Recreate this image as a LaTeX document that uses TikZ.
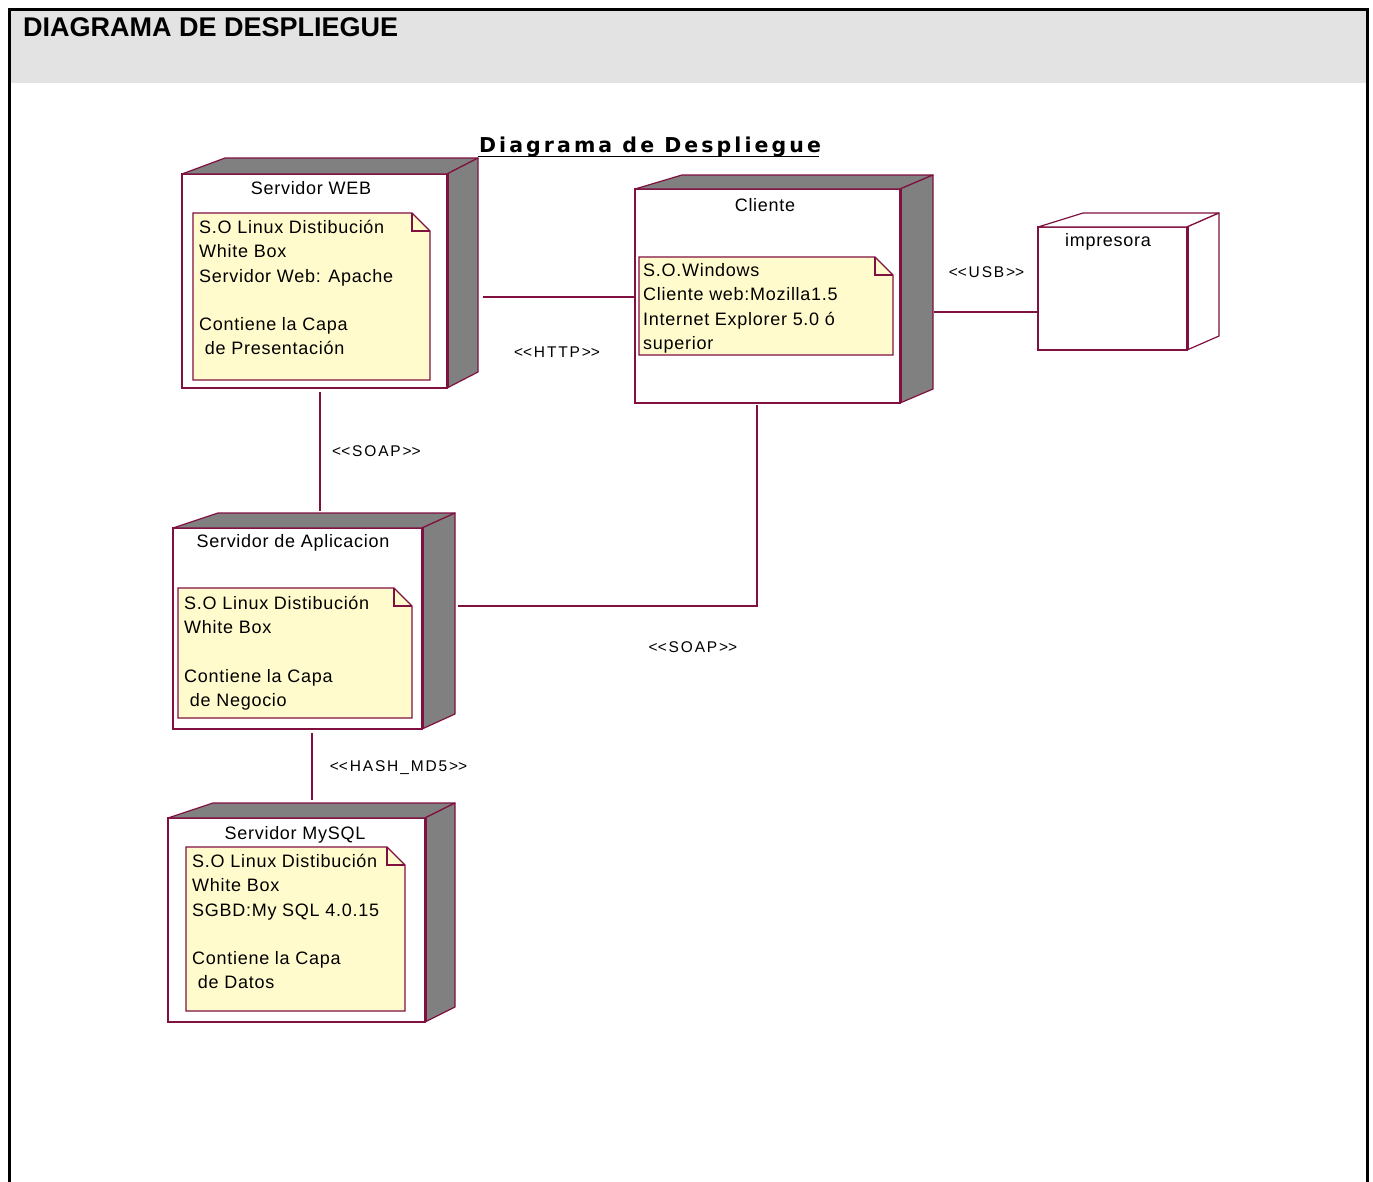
\documentclass[tikz,border=0pt]{standalone}
\usepackage{fontspec}
\setmainfont{Liberation Sans}
\newfontfamily\notefont{Liberation Sans}[LetterSpace=4]
\newfontfamily\stfont{Liberation Sans}[LetterSpace=12]
\newfontfamily\ttlfont{DejaVu Sans}[LetterSpace=15]
\usetikzlibrary{calc}

\definecolor{rosered}{RGB}{128,16,64}
\definecolor{facegray}{RGB}{128,128,128}
\definecolor{notefill}{RGB}{255,251,204}
\definecolor{headgray}{RGB}{227,227,227}

% stereotype text with plain angle brackets
\newcommand{\stereo}[1]{<\kern0pt<#1>\kern0pt>}

\tikzset{
  front/.style={draw=rosered, line width=1.5pt, fill=white, inner sep=0pt, outer sep=0pt},
  face/.style={draw=rosered, line width=1.2pt, fill=facegray, line join=round},
  whiteface/.style={draw=rosered, line width=1.2pt, fill=white, line join=round},
  edge3d/.style={draw=rosered, line width=3pt},
  notebox/.style={inner sep=0pt, outer sep=0pt},
  notepath/.style={draw=rosered, line width=1.2pt, fill=notefill, line join=miter},
  notetext/.style={anchor=north west, inner sep=0pt, align=left, font=\notefont\fontsize{18}{24.2}\selectfont},
  nodetitle/.style={anchor=base, inner sep=0pt, font=\notefont\fontsize{18}{22}\selectfont},
  conn/.style={draw=rosered, line width=1.6pt},
  stlabel/.style={anchor=base, inner sep=0pt, font=\stfont\fontsize{15.5}{18}\selectfont}
}

% gray top face and right face of a UML node
\newcommand{\nodefaces}[5]{%
  \draw[#5] (#1.north west) -- ++(#2,-#4) -- ($(#1.north east)+(#3,-#4)$) -- (#1.north east) -- cycle;
  \draw[#5] (#1.north east) -- ++(#3,-#4) -- ($(#1.south east)+(#3,-#4)$) -- (#1.south east) -- cycle;
  \draw[edge3d] (#1.north east) -- (#1.south east);
}
% note with a folded corner
\newcommand{\notedraw}[1]{%
  \draw[notepath] (#1.north west) -- ($(#1.north east)+(-18,0)$) -- ($(#1.north east)+(0,18)$)
     -- (#1.south east) -- (#1.south west) -- cycle;
  \draw[draw=rosered, line width=1.2pt] ($(#1.north east)+(-18,0)$) -- ++(0,18) -- ++(18,0);
}

\begin{document}
\begin{tikzpicture}[x=1pt,y=-1pt]
\useasboundingbox (0,0) rectangle (1373,1181);

% page frame and header band
\fill[headgray] (10,10) rectangle (1365.5,83);
\draw[line width=3pt] (9,1185) -- (9,9) -- (1367,9) -- (1367,1185);
\node[anchor=base west, inner sep=0pt, font=\bfseries\fontsize{27}{32}\selectfont] (head) at (23,36.5) {DIAGRAMA DE DESPLIEGUE};

% diagram title
\node[anchor=base, inner sep=0pt, font=\ttlfont\bfseries\fontsize{20.5}{25}\selectfont] (title) at (650,152.5) {Diagrama de Despliegue};
\draw[line width=1.8pt] ($(title.base west)+(-1,4)$) -- ($(title.base east)+(-2,4)$);

% ---------- Servidor WEB ----------
\node[front, minimum width=265pt, minimum height=214pt] (web) at (314.5,281) {};
\nodefaces{web}{43}{31}{16}{face}
\node[nodetitle] (webttl) at (311,194.5) {Servidor WEB};
\node[notebox, minimum width=237pt, minimum height=167pt] (webnote) at (311.5,296.5) {};
\notedraw{webnote}
\node[notetext] (webtxt) at ([shift={(6,3.6)}]webnote.north west)
  {\strut S.O Linux Distibución\\White Box\\Servidor Web: Apache\\[24.2pt]Contiene la Capa\\~de Presentación};

% ---------- Cliente ----------
\node[front, minimum width=265pt, minimum height=214pt] (cli) at (767.5,296) {};
\nodefaces{cli}{47}{33}{14}{face}
\node[nodetitle] (clittl) at (765,211.5) {Cliente};
\node[notebox, minimum width=254pt, minimum height=98pt] (clinote) at (766,306) {};
\notedraw{clinote}
\node[notetext] (clitxt) at ([shift={(4,2.6)}]clinote.north west)
  {\strut S.O.Windows\\Cliente web:Mozilla1.5\\Internet Explorer 5.0 ó\\superior};

% ---------- impresora ----------
\node[front, minimum width=149pt, minimum height=123pt] (imp) at (1112.5,288.5) {};
\nodefaces{imp}{45}{32}{14}{whiteface}
\node[nodetitle] (impttl) at (1108,246) {impresora};

% ---------- Servidor de Aplicacion ----------
\node[front, minimum width=249pt, minimum height=201pt] (app) at (297.5,628.5) {};
\nodefaces{app}{45}{33}{15}{face}
\node[nodetitle] (appttl) at (293,547.5) {Servidor de Aplicacion};
\node[notebox, minimum width=234pt, minimum height=130pt] (appnote) at (295,653) {};
\notedraw{appnote}
\node[notetext] (apptxt) at ([shift={(6,4.6)}]appnote.north west)
  {\strut S.O Linux Distibución\\White Box\\[24.2pt]Contiene la Capa\\~de Negocio};

% ---------- Servidor MySQL ----------
\node[front, minimum width=257pt, minimum height=204pt] (sql) at (296.5,920) {};
\nodefaces{sql}{45}{30}{15}{face}
\node[nodetitle] (sqlttl) at (295,839.5) {Servidor MySQL};
\node[notebox, minimum width=219pt, minimum height=164pt] (sqlnote) at (295.5,929) {};
\notedraw{sqlnote}
\node[notetext] (sqltxt) at ([shift={(6,3.6)}]sqlnote.north west)
  {\strut S.O Linux Distibución\\White Box\\SGBD:My SQL 4.0.15\\[24.2pt]Contiene la Capa\\~de Datos};

% ---------- connectors ----------
\coordinate (webside) at (483,297);
\draw[conn] (webside) -- (cli.west |- webside);
\node[stlabel] (lhttp) at (557,357) {\stereo{HTTP}};

\coordinate (cliside) at (934,312);
\draw[conn] (cliside) -- (imp.west |- cliside);
\node[stlabel] (lusb) at (986.5,277) {\stereo{USB}};

\coordinate (webbot) at (320,392);
\coordinate (apptop) at (320,511);
\draw[conn] (webbot) -- (apptop);
\node[stlabel] (lsoap1) at (376.5,456) {\stereo{SOAP}};

\coordinate (clibot) at (757,405);
\coordinate (appside) at (458,606);
\draw[conn] (clibot) -- (clibot |- appside) -- (appside);
\node[stlabel] (lsoap2) at (693,652) {\stereo{SOAP}};

\coordinate (appbot) at (312,733);
\coordinate (sqltop) at (312,800);
\draw[conn] (appbot) -- (sqltop);
\node[stlabel] (lhash) at (398.5,771) {\stereo{HASH\_MD5}};

\end{tikzpicture}
\end{document}
